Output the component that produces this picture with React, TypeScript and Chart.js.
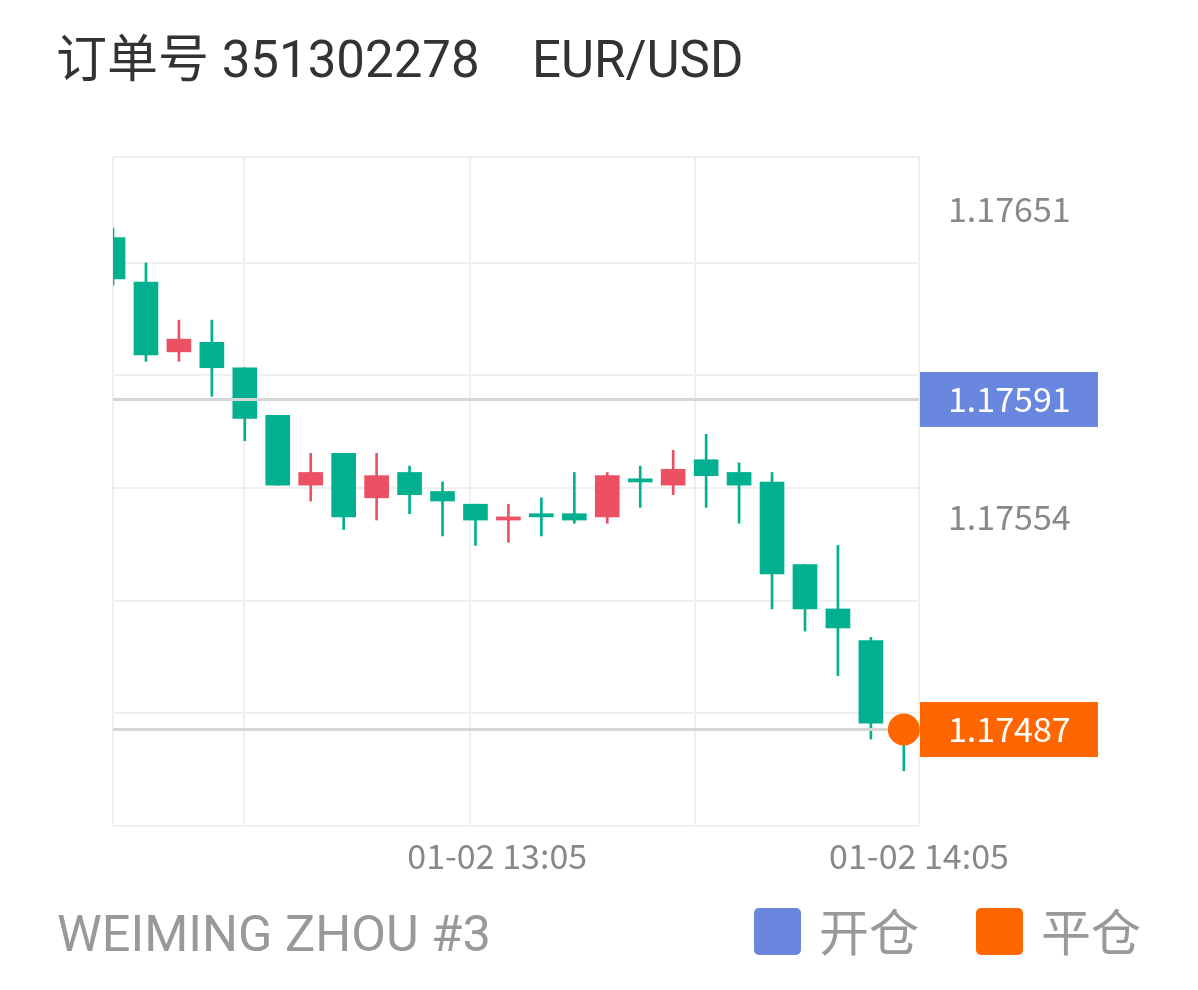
import React, { useEffect, useRef } from 'react';
import { Chart, registerables } from 'chart.js';

Chart.register(...registerables);

// ---- data ----
const candleIndex = [0, 1, 2, 3, 4, 5, 6, 7, 8, 9, 10, 11, 12, 13, 14, 15, 16, 17, 18, 19, 20, 21, 22, 23, 24];
const opens = [1.17642, 1.17628, 1.17606, 1.17609, 1.17601, 1.17586, 1.17564, 1.17574, 1.1756, 1.17568, 1.17562, 1.17558, 1.17553, 1.17555, 1.17555, 1.17554, 1.17566, 1.17564, 1.17572, 1.17568, 1.17565, 1.17539, 1.17525, 1.17515, 1.17489];
const highs = [1.17645, 1.17634, 1.17616, 1.17616, 1.17601, 1.17586, 1.17574, 1.17574, 1.17574, 1.1757, 1.17565, 1.17558, 1.17558, 1.1756, 1.17568, 1.17568, 1.1757, 1.17575, 1.1758, 1.17571, 1.17568, 1.17539, 1.17545, 1.17516, 1.1749];
const lows = [1.17627, 1.17603, 1.17603, 1.17592, 1.17578, 1.17564, 1.17559, 1.1755, 1.17553, 1.17555, 1.17548, 1.17545, 1.17546, 1.17548, 1.17552, 1.17552, 1.17557, 1.17561, 1.17557, 1.17552, 1.17525, 1.17518, 1.17504, 1.17484, 1.17474];
const closes = [1.17629, 1.17605, 1.1761, 1.17601, 1.17585, 1.17564, 1.17568, 1.17554, 1.17567, 1.17561, 1.17559, 1.17553, 1.17554, 1.17554, 1.17553, 1.17567, 1.17565, 1.17569, 1.17567, 1.17564, 1.17536, 1.17525, 1.17519, 1.17489, 1.17487];

const openPrice = 1.17591;
const closePrice = 1.17487;
const closeIndex = 24;

const yMin = 1.174566;
const yMax = 1.176674;
const yGridTicks = [1.174921, 1.175276, 1.175631, 1.175986, 1.176341, 1.176674];
const yLabelTicks = [1.17651, 1.17591, 1.17554, 1.17487];
const yLabels = ['1.17651', '1.17591', '1.17554', '1.17487'];
const yBoxed = [false, true, false, true];

const xMin = 0;
const xMax = 24.46;
const xGridTicks = [0, 3.97, 10.83, 17.66];
const xLabelTicks = [11.66, 24.46];
const xLabels = ['01-02 13:05', '01-02 14:05'];

const titleOrder = '订单号 351302278';
const titleSymbol = 'EUR/USD';
const accountName = 'WEIMING ZHOU #3';
const legendItems = ['开仓', '平仓'];

// ---- style ----
const GREEN = '#00B08F';
const RED = '#EB5163';
const BLUE = '#6A87E0';
const ORANGE = '#FF6600';
const GRID = '#efefef';
const AXIS_FONT = "'Noto Sans CJK SC', 'Noto Sans', sans-serif";

const boxPlugin = {
  id: 'priceBoxes',
  beforeDraw(chart: any) {
    const { ctx, chartArea } = chart;
    const y = chart.scales.y;
    const colors = [null, BLUE, null, ORANGE];
    yLabelTicks.forEach((v, i) => {
      if (!yBoxed[i]) return;
      const py = y.getPixelForValue(v);
      ctx.save();
      ctx.fillStyle = colors[i];
      ctx.fillRect(chartArea.right + 1, py - 27.5, 178, 55);
      ctx.restore();
    });
  },
};

export default function App() {
  const ref = useRef<HTMLCanvasElement>(null);

  useEffect(() => {
    if (!ref.current) return;
    const candleColors = candleIndex.map((i) => (closes[i] < opens[i] ? GREEN : RED));
    const chart = new Chart(ref.current, {
      type: 'bar',
      data: {
        datasets: [
          {
            type: 'bar',
            label: 'wick',
            data: candleIndex.map((i) => ({ x: i, y: [lows[i], highs[i]] })) as any,
            backgroundColor: candleColors,
            barThickness: 2,
            grouped: false,
            borderWidth: 0,
            clip: 0 as any,
            order: 4,
          },
          {
            type: 'bar',
            label: 'body',
            data: candleIndex.map((i) => ({ x: i, y: [opens[i], closes[i]] })) as any,
            backgroundColor: candleColors,
            barThickness: 24,
            grouped: false,
            borderWidth: 0,
            clip: 0 as any,
            order: 3,
          },
          {
            type: 'line',
            label: 'open',
            data: [{ x: xMin, y: openPrice }, { x: xMax, y: openPrice }] as any,
            borderColor: '#d6d6d6',
            borderWidth: 3,
            pointRadius: 0,
            clip: 0 as any,
            order: 2,
          },
          {
            type: 'line',
            label: 'close',
            data: [{ x: xMin, y: closePrice }, { x: xMax, y: closePrice }] as any,
            borderColor: '#d6d6d6',
            borderWidth: 3,
            pointRadius: 0,
            clip: 0 as any,
            order: 2,
          },
          {
            type: 'scatter',
            label: 'closePoint',
            data: [{ x: closeIndex, y: closePrice }] as any,
            backgroundColor: ORANGE,
            borderWidth: 0,
            pointRadius: 16,
            clip: false as any,
            order: 1,
          },
        ] as any,
      },
      options: {
        animation: false,
        responsive: false,
        events: [],
        layout: { padding: { left: 113, top: 157, right: 100, bottom: 14 } },
        plugins: { legend: { display: false }, tooltip: { enabled: false } },
        scales: {
          x: {
            type: 'linear',
            min: xMin,
            max: xMax,
            offset: false,
            afterBuildTicks: (scale: any) => {
              scale.ticks = [
                ...xGridTicks.map((v) => ({ value: v, kind: 'grid', text: '' })),
                ...xLabelTicks.map((v, i) => ({ value: v, kind: 'label', text: xLabels[i] })),
              ];
            },
            afterFit: (scale: any) => {
              scale.height = 60;
            },
            grid: {
              offset: false,
              drawTicks: false,
              lineWidth: 2,
              color: (ctx: any) => (ctx.tick && ctx.tick.kind === 'label' ? 'rgba(0,0,0,0)' : GRID),
            },
            border: { display: true, color: GRID, width: 2 },
            ticks: {
              autoSkip: false,
              maxRotation: 0,
              minRotation: 0,
              padding: 10,
              color: '#888888',
              font: { family: AXIS_FONT, size: 34 },
              callback: (_v: any, i: number, ticks: any[]) => ticks[i].text,
            },
          },
          y: {
            type: 'linear',
            position: 'right',
            min: yMin,
            max: yMax,
            afterBuildTicks: (scale: any) => {
              scale.ticks = [
                ...yGridTicks.map((v) => ({ value: v, kind: 'grid', text: '', boxed: false })),
                ...yLabelTicks.map((v, i) => ({ value: v, kind: 'label', text: yLabels[i], boxed: yBoxed[i] })),
              ];
            },
            afterFit: (scale: any) => {
              scale.width = 179;
            },
            grid: {
              drawTicks: false,
              lineWidth: 2,
              color: (ctx: any) => (ctx.tick && ctx.tick.kind === 'label' ? 'rgba(0,0,0,0)' : GRID),
            },
            border: { display: true, color: GRID, width: 2 },
            ticks: {
              crossAlign: 'center',
              padding: 29,
              color: (ctx: any) => (ctx.tick && ctx.tick.boxed ? '#ffffff' : '#888888'),
              font: { family: AXIS_FONT, size: 34 },
              callback: (_v: any, i: number, ticks: any[]) => ticks[i].text,
            },
          },
        },
      } as any,
      plugins: [boxPlugin],
    });
    return () => chart.destroy();
  }, []);

  const textBase: React.CSSProperties = {
    position: 'absolute',
    fontFamily: "Roboto, 'Noto Sans CJK SC', sans-serif",
    fontSize: 50,
    lineHeight: '50px',
    whiteSpace: 'pre',
  };

  return (
    <div style={{ position: 'fixed', left: 0, top: 0, width: 1198, height: 990, background: '#fff', overflow: 'hidden' }}>
      <div style={{ ...textBase, fontSize: 51, left: 56, top: 35, color: '#333333' }}>{titleOrder}</div>
      <div style={{ ...textBase, fontSize: 51, left: 532, top: 35, color: '#333333' }}>{titleSymbol}</div>
      <canvas ref={ref} width={1198} height={900} style={{ position: 'absolute', left: 0, top: 0, display: 'block' }} />
      <div style={{ ...textBase, fontSize: 50.5, left: 57, top: 909, color: '#999999' }}>{accountName}</div>
      <div style={{ position: 'absolute', left: 754, top: 908, width: 47, height: 47, borderRadius: 5, background: BLUE }} />
      <div style={{ ...textBase, left: 819, top: 909, color: '#999999' }}>{legendItems[0]}</div>
      <div style={{ position: 'absolute', left: 976, top: 908, width: 47, height: 47, borderRadius: 5, background: ORANGE }} />
      <div style={{ ...textBase, left: 1041, top: 909, color: '#999999' }}>{legendItems[1]}</div>
    </div>
  );
}
